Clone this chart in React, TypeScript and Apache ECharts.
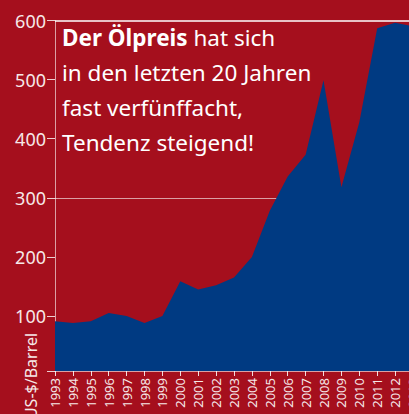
import React, { useEffect, useRef } from "react";
import * as echarts from "echarts";

const years = ["1993","1994","1995","1996","1997","1998","1999","2000","2001","2002","2003","2004","2005","2006","2007","2008","2009","2010","2011","2012","2013"];
const prices = [91, 88, 91, 105, 100, 88, 100, 159, 145, 152, 165, 200, 278, 336, 373, 499, 318, 428, 587, 596, 590];
const yTickLabels = [100, 200, 300, 400, 500, 600];
const yTicks = [7, 100, 200, 300, 400, 500, 600];
const guideLines = [300, 600];

const RED = "#A50F1D";
const BLUE = "#003A82";
const FONT = "Noto Sans";

export default function App() {
  const ref = useRef<HTMLDivElement>(null);
  useEffect(() => {
    if (!ref.current) return;
    const chart = echarts.init(ref.current, undefined, { renderer: "svg" });
    chart.setOption({
      animation: false,
      backgroundColor: RED,
      grid: { left: 55, right: -4, top: 20.5, bottom: 43, containLabel: false, outerBoundsMode: "none" },
      xAxis: {
        type: "category",
        data: years,
        boundaryGap: false,
        axisLine: { show: true, lineStyle: { color: "rgba(255,255,255,0.6)", width: 1 } },
        axisTick: { show: true, alignWithLabel: true, length: 5, lineStyle: { color: "rgba(255,255,255,0.85)" } },
        axisLabel: {
          rotate: 90,
          interval: 0,
          margin: 7,
          color: "#F6E8E8",
          fontSize: 13,
          fontFamily: FONT,
        },
        splitLine: { show: false },
      },
      yAxis: {
        type: "value",
        min: 7,
        max: 600,
        axisLine: { show: true, lineStyle: { color: "rgba(255,255,255,0.6)", width: 1 } },
        axisTick: { show: true, length: 8, customValues: yTicks, lineStyle: { color: "rgba(255,255,255,0.8)" } },
        axisLabel: {
          customValues: yTickLabels,
          margin: 9,
          color: "#F6E8E8",
          fontSize: 18,
          fontFamily: FONT,
        },
        splitLine: { show: false },
      },
      series: [
        {
          type: "line",
          data: [],
          z: 1,
          silent: true,
          markLine: {
            z: 1,
            silent: true,
            symbol: ["none", "none"],
            label: { show: false },
            data: guideLines.map((v) => ({
              yAxis: v,
              lineStyle: {
                color: v === 600 ? "#FFFFFF" : "rgba(255,255,255,0.6)",
                width: v === 600 ? 1.5 : 1.2,
                type: "solid",
              },
            })),
          },
        },
        {
          type: "line",
          data: prices,
          z: 3,
          symbol: "none",
          lineStyle: { width: 0 },
          areaStyle: { color: BLUE, opacity: 1, origin: "start" },
        },
      ],
      graphic: [
        {
          type: "text",
          x: 62,
          y: 20,
          z: 10,
          style: {
            text: "{b|Der Ölpreis} {n|hat sich}\n{n|in den letzten 20 Jahren}\n{n|fast verfünffacht,}\n{n|Tendenz steigend!}",
            fill: "#FFFFFF",
            fontFamily: FONT,
            fontSize: 22.5,
            lineHeight: 35,
            verticalAlign: "top",
            rich: {
              b: { fontWeight: "bold", fontSize: 22.5, lineHeight: 35, fill: "#FFFFFF", fontFamily: FONT },
              n: { fontSize: 22.5, lineHeight: 35, fill: "#FFFFFF", fontFamily: FONT },
            },
          },
        },
        {
          type: "text",
          x: 31,
          y: 376,
          rotation: Math.PI / 2,
          style: {
            text: "US-$/Barrel",
            fill: "#F6E8E8",
            fontFamily: FONT,
            fontSize: 16,
            align: "center",
            verticalAlign: "middle",
          },
        },
      ],
    });
    return () => chart.dispose();
  }, []);
  return (
    <div
      ref={ref}
      style={{ position: "fixed", left: 0, top: 0, width: 409, height: 414, overflow: "hidden" }}
    />
  );
}
